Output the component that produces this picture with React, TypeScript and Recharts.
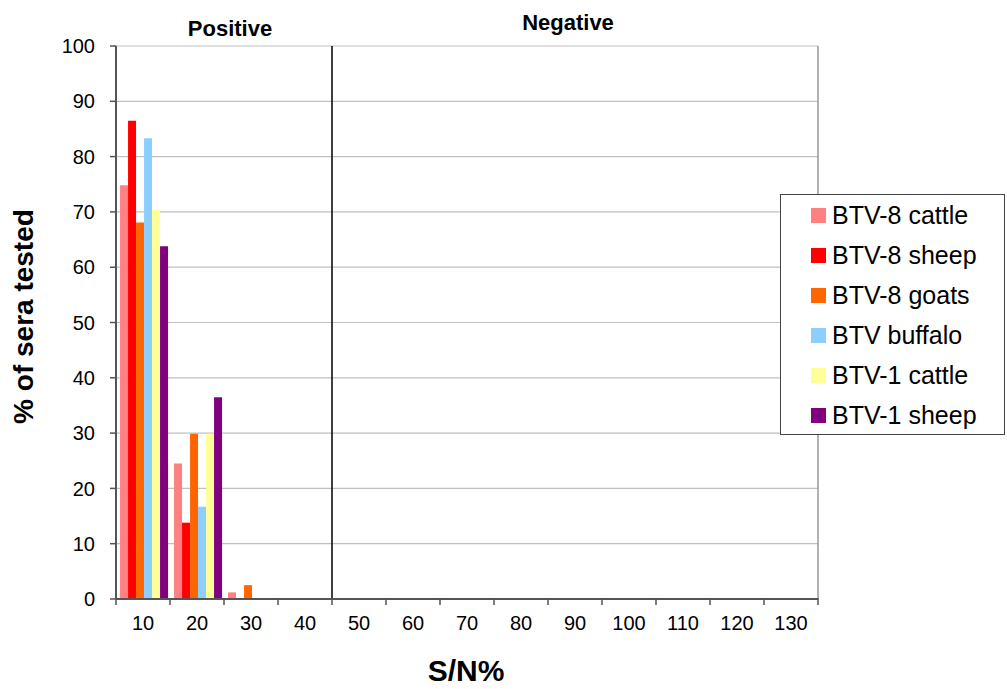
import React from 'react';
import { BarChart, Bar, XAxis, YAxis, CartesianGrid, ReferenceLine } from 'recharts';

const categories = ['10', '20', '30', '40', '50', '60', '70', '80', '90', '100', '110', '120', '130'];
const btv8Cattle = [74.8, 24.5, 1.2, 0, 0, 0, 0, 0, 0, 0, 0, 0, 0];
const btv8Sheep = [86.5, 13.8, 0, 0, 0, 0, 0, 0, 0, 0, 0, 0, 0];
const btv8Goats = [68.1, 29.9, 2.5, 0, 0, 0, 0, 0, 0, 0, 0, 0, 0];
const btvBuffalo = [83.3, 16.7, 0, 0, 0, 0, 0, 0, 0, 0, 0, 0, 0];
const btv1Cattle = [70.4, 29.9, 0, 0, 0, 0, 0, 0, 0, 0, 0, 0, 0];
const btv1Sheep = [63.8, 36.5, 0, 0, 0, 0, 0, 0, 0, 0, 0, 0, 0];
const yTicks = [0, 10, 20, 30, 40, 50, 60, 70, 80, 90, 100];

const seriesNames = ['BTV-8 cattle', 'BTV-8 sheep', 'BTV-8 goats', 'BTV buffalo', 'BTV-1 cattle', 'BTV-1 sheep'];
const seriesColors = ['#FF8080', '#FF0000', '#FF6600', '#8CCFFF', '#FFFF99', '#800080'];
const seriesValues = [btv8Cattle, btv8Sheep, btv8Goats, btvBuffalo, btv1Cattle, btv1Sheep];
const keys = ['s0', 's1', 's2', 's3', 's4', 's5'];

const data = categories.map((c, i) => {
  const row: any = { label: c };
  seriesValues.forEach((arr, k) => { row[keys[k]] = arr[i]; });
  return row;
});

const FONT = '"Liberation Sans", Arial, sans-serif';
const AXIS_COLOR = '#555555';

const XTick = (props: any) => {
  const { x, y, payload, index } = props;
  const half = payload && payload.offset ? payload.offset : 27;
  const last = index === categories.length - 1;
  return (
    <g>
      <line x1={x - half} y1={y - 1} x2={x - half} y2={y + 6} stroke={AXIS_COLOR} strokeWidth={1.5} />
      {last && <line x1={x + half} y1={y - 1} x2={x + half} y2={y + 6} stroke={AXIS_COLOR} strokeWidth={1.5} />}
      <text x={x} y={y + 31} textAnchor="middle" fontFamily={FONT} fontSize={20} fill="#000">
        {payload.value}
      </text>
    </g>
  );
};

const YLabel = (props: any) => {
  const vb = props.viewBox || { x: 0, y: 46, width: 116, height: 553 };
  const cx = 33;
  const cy = vb.y + vb.height / 2 - 6;
  return (
    <text x={cx} y={cy} transform={`rotate(-90, ${cx}, ${cy})`} textAnchor="middle" fontFamily={FONT} fontWeight="bold" fontSize={28} fill="#000">
      % of sera tested
    </text>
  );
};

const LegendBox = () => (
  <div style={{ position: 'absolute', left: 780, top: 194, width: 225, height: 241, border: '1px solid #444', background: '#fff', boxSizing: 'border-box', fontFamily: FONT }}>
    {seriesNames.map((name, i) => (
      <div key={name} style={{ position: 'absolute', left: 30, top: 20 + 40 * i - 15, height: 30, display: 'flex', alignItems: 'center' }}>
        <span style={{ display: 'inline-block', width: 15, height: 15, background: seriesColors[i], marginRight: 6 }} />
        <span style={{ fontSize: 25, color: '#000', whiteSpace: 'nowrap' }}>{name}</span>
      </div>
    ))}
  </div>
);

export default function App() {
  return (
    <div style={{ position: 'absolute', left: 0, top: 0, width: 1007, height: 689, background: '#fff' }}>
      <BarChart
        width={1007}
        height={689}
        data={data}
        margin={{ top: 46, right: 189, bottom: 0, left: 0 }}
        barCategoryGap="7.5%"
        barGap={0}
      >
        <CartesianGrid vertical={false} stroke="#c0c0c0" strokeWidth={1.2} />
        <XAxis
          dataKey="label"
          height={90}
          tickLine={false}
          tickSize={0}
          tickMargin={0}
          interval={0}
          axisLine={{ stroke: AXIS_COLOR, strokeWidth: 2 }}
          tick={<XTick />}
        />
        <YAxis
          width={116}
          domain={[0, 100]}
          ticks={yTicks}
          interval={0}
          tickSize={6}
          tickMargin={15}
          axisLine={{ stroke: AXIS_COLOR, strokeWidth: 2 }}
          tickLine={{ stroke: AXIS_COLOR, strokeWidth: 1.5 }}
          tick={{ fontFamily: FONT, fontSize: 20, fill: '#000' }}
          label={<YLabel />}
        />
        <ReferenceLine x="40" position="end" stroke="#000" strokeWidth={1.5} />
        <ReferenceLine x="130" position="end" stroke="#999" strokeWidth={1.5} />
        {keys.map((k, i) => (
          <Bar key={k} dataKey={k} name={seriesNames[i]} fill={seriesColors[i]} isAnimationActive={false} />
        ))}
      </BarChart>
      <LegendBox />
      <svg width={1007} height={689} style={{ position: 'absolute', left: 0, top: 0, pointerEvents: 'none' }}>
        <text x={230} y={36} textAnchor="middle" fontFamily={FONT} fontWeight="bold" fontSize={22} fill="#000">Positive</text>
        <text x={568} y={30} textAnchor="middle" fontFamily={FONT} fontWeight="bold" fontSize={22} fill="#000">Negative</text>
        <text x={466} y={681} textAnchor="middle" fontFamily={FONT} fontWeight="bold" fontSize={30} fill="#000">S/N%</text>
      </svg>
    </div>
  );
}
